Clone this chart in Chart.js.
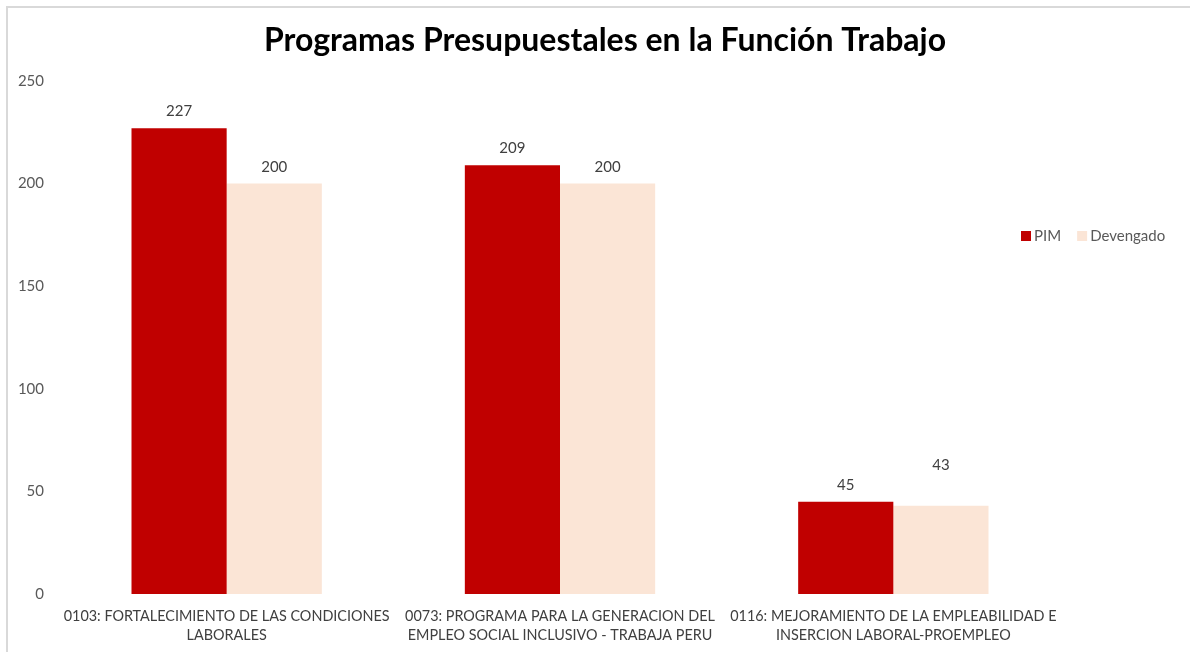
<!DOCTYPE html>
<html>
<head>
<meta charset="utf-8">
<script src="https://cdn.jsdelivr.net/npm/chart.js@4"></script>
<style>
  html, body { margin: 0; padding: 0; background: #ffffff; }
  #wrap { position: relative; width: 1190px; height: 652px; }
</style>
</head>
<body>
<div id="wrap"><canvas id="chart" width="1190" height="652"></canvas></div>
<script>
// Programas presupuestales de la función Trabajo (millones)
const TITLE = 'Programas Presupuestales en la Función Trabajo';
const categories = [
  ['0103: FORTALECIMIENTO DE LAS CONDICIONES', 'LABORALES'],
  ['0073: PROGRAMA PARA LA GENERACION DEL', 'EMPLEO SOCIAL INCLUSIVO - TRABAJA PERU'],
  ['0116: MEJORAMIENTO DE LA EMPLEABILIDAD E', 'INSERCION LABORAL-PROEMPLEO']
];
const seriesNames = ['PIM', 'Devengado'];
const pim = [227, 209, 45];
const devengado = [200, 200, 43];
const yTicks = [0, 50, 100, 150, 200, 250];

const FONT = 'Lato, "Open Sans", sans-serif';
const colors = ['#C00000', '#FBE5D6'];

// Frame, title, value labels and legend
const decorations = {
  id: 'decorations',
  beforeDraw(chart) {
    const ctx = chart.ctx;
    ctx.save();
    ctx.fillStyle = '#ffffff';
    ctx.fillRect(0, 0, chart.width, chart.height);
    ctx.strokeStyle = '#d9d9d9';
    ctx.lineWidth = 2;
    ctx.beginPath();
    ctx.moveTo(7, chart.height);
    ctx.lineTo(7, 7);
    ctx.lineTo(chart.width, 7);
    ctx.stroke();
    ctx.restore();
  },
  afterDraw(chart) {
    const ctx = chart.ctx;
    ctx.save();
    // title
    ctx.fillStyle = '#000000';
    ctx.font = 'bold 32px ' + FONT;
    ctx.textAlign = 'center';
    ctx.textBaseline = 'middle';
    ctx.fillText(TITLE, 605, 41);

    // value labels above bars
    ctx.font = '15px ' + FONT;
    ctx.fillStyle = '#404040';
    ctx.textBaseline = 'alphabetic';
    chart.data.datasets.forEach((ds, di) => {
      const meta = chart.getDatasetMeta(di);
      meta.data.forEach((bar, i) => {
        const lift = (di === 1 && i === 2) ? 36 : 12;
        ctx.fillText(String(ds.data[i]), bar.x, bar.y - lift);
      });
    });

    // legend to the right of the plot
    let x = 1021;
    const y = 236;
    ctx.textAlign = 'left';
    ctx.textBaseline = 'middle';
    ctx.font = '15px ' + FONT;
    chart.data.datasets.forEach((ds) => {
      ctx.fillStyle = ds.backgroundColor;
      ctx.fillRect(x, y - 5, 10, 10);
      ctx.fillStyle = '#595959';
      ctx.fillText(ds.label, x + 13, y);
      x += 13 + ctx.measureText(ds.label).width + 16;
    });
    ctx.restore();
  }
};

new Chart(document.getElementById('chart'), {
  type: 'bar',
  data: {
    labels: categories,
    datasets: [
      { label: seriesNames[0], data: pim, backgroundColor: colors[0] },
      { label: seriesNames[1], data: devengado, backgroundColor: colors[1] }
    ]
  },
  options: {
    responsive: false,
    animation: false,
    devicePixelRatio: 1,
    layout: { padding: { top: 81, right: 130, bottom: 0, left: 0 } },
    datasets: {
      bar: { barPercentage: 1.0, categoryPercentage: 0.571 }
    },
    plugins: {
      legend: { display: false },
      title: { display: false },
      tooltip: { enabled: false }
    },
    scales: {
      x: {
        grid: { display: false, drawTicks: false },
        border: { display: false },
        ticks: {
          color: '#404040',
          font: { family: FONT, size: 14.4, lineHeight: 1.3 },
          padding: 13,
          maxRotation: 0,
          minRotation: 0,
          autoSkip: false
        },
        afterFit(scale) { scale.height = 58; }
      },
      y: {
        min: 0,
        max: 250,
        grid: { display: false, drawTicks: false },
        border: { display: false },
        afterBuildTicks(scale) { scale.ticks = yTicks.map(v => ({ value: v })); },
        ticks: {
          color: '#595959',
          font: { family: FONT, size: 15 },
          padding: 16
        },
        afterFit(scale) { scale.width = 60; }
      }
    }
  },
  plugins: [decorations]
});
</script>
</body>
</html>
